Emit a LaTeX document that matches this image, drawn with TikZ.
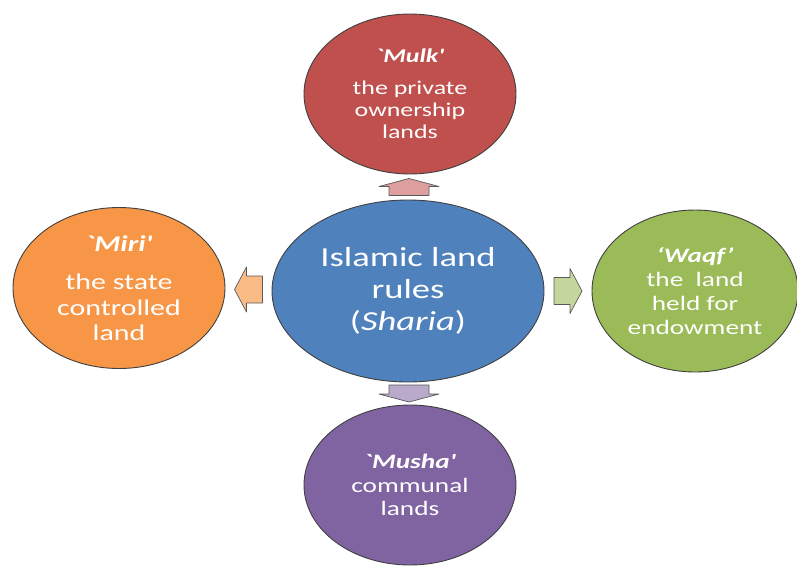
\documentclass[tikz,border=0pt]{standalone}
\usepackage{fontspec}
\setmainfont{Carlito}[FakeStretch=1.33]
\newfontfamily\rawfont{Carlito}[FakeStretch=1.33]
\usetikzlibrary{shapes.geometric,calc,positioning}

\definecolor{rulesblue}{HTML}{4F81BD}
\definecolor{mulkred}{HTML}{C0504D}
\definecolor{miriorange}{HTML}{F79646}
\definecolor{waqfgreen}{HTML}{9BBB59}
\definecolor{mushapurple}{HTML}{8064A2}

\tikzset{
		landbox/.style={ellipse,draw=black!75,line width=0.9pt,text=white,align=center,inner sep=0pt},
		% block arrow pointing to the right: length/head width/shaft width/head length
		pics/blockarrow/.style args={#1/#2/#3/#4}{
			code={
				\draw[pic actions] (-#1/2,-#3/2) -- (#1/2-#4,-#3/2) -- (#1/2-#4,-#2/2) -- (#1/2,0)
					-- (#1/2-#4,#2/2) -- (#1/2-#4,#3/2) -- (-#1/2,#3/2) -- cycle;
			}
		},
		arrowline/.style={draw=black!65,line width=0.7pt,line join=round}
	}
\newcommand{\landname}[1]{{\rawfont\bfseries\itshape #1}}

\begin{document}
\begin{tikzpicture}[x=1pt,y=-1pt]
				\useasboundingbox (0,0) rectangle (797,566);
				% centre
				\node[landbox,fill=rulesblue,minimum width=272pt,minimum height=182pt,font=\fontsize{27.5}{32}\selectfont]
					(rules) at (408,291) {Islamic land\\rules\\(\textit{Sharia})};
				% the four kinds of land
				\node[landbox,fill=mulkred,minimum width=212pt,minimum height=160pt,font=\fontsize{19.5}{22}\selectfont]
					(mulk) at (410,94) {\landname{`Mulk'}\\[10pt]the private\\ownership\\lands};
				\node[landbox,fill=miriorange,minimum width=212pt,minimum height=161pt,font=\fontsize{22.5}{25.5}\selectfont]
					(miri) at (119,288) {\landname{`Miri'}\\[13pt]the state\\controlled\\land};
				\node[landbox,fill=waqfgreen,minimum width=206pt,minimum height=162pt,font=\fontsize{20.5}{24}\selectfont]
					(waqf) at (695,291) {\landname{‘Waqf’}\\the\ \ land\\held for\\endowment};
				\node[landbox,fill=mushapurple,minimum width=212pt,minimum height=160pt,font=\fontsize{20.5}{23.5}\selectfont]
					(musha) at (410,485) {\landname{`Musha'}\\communal\\lands};
				% arrows
				\pic[arrowline,fill=mulkred!55!white,rotate=90] (tomulk) at ($(rules.north)!.5!(mulk.south)$) {blockarrow={17/60/40/8}};
				\pic[arrowline,fill=mushapurple!55!white,rotate=-90] (tomusha) at ($(rules.south)!.5!(musha.north)$) {blockarrow={17/60/40/8}};
				\pic[arrowline,fill=miriorange!65!white,rotate=180] (tomiri) at ($(rules.west)!.5!(miri.east)$) {blockarrow={28/45/27/12}};
				\pic[arrowline,fill=waqfgreen!60!white] (towaqf) at ($(rules.east)!.5!(waqf.west)$) {blockarrow={28/45/27/12}};
			\end{tikzpicture}
\end{document}
